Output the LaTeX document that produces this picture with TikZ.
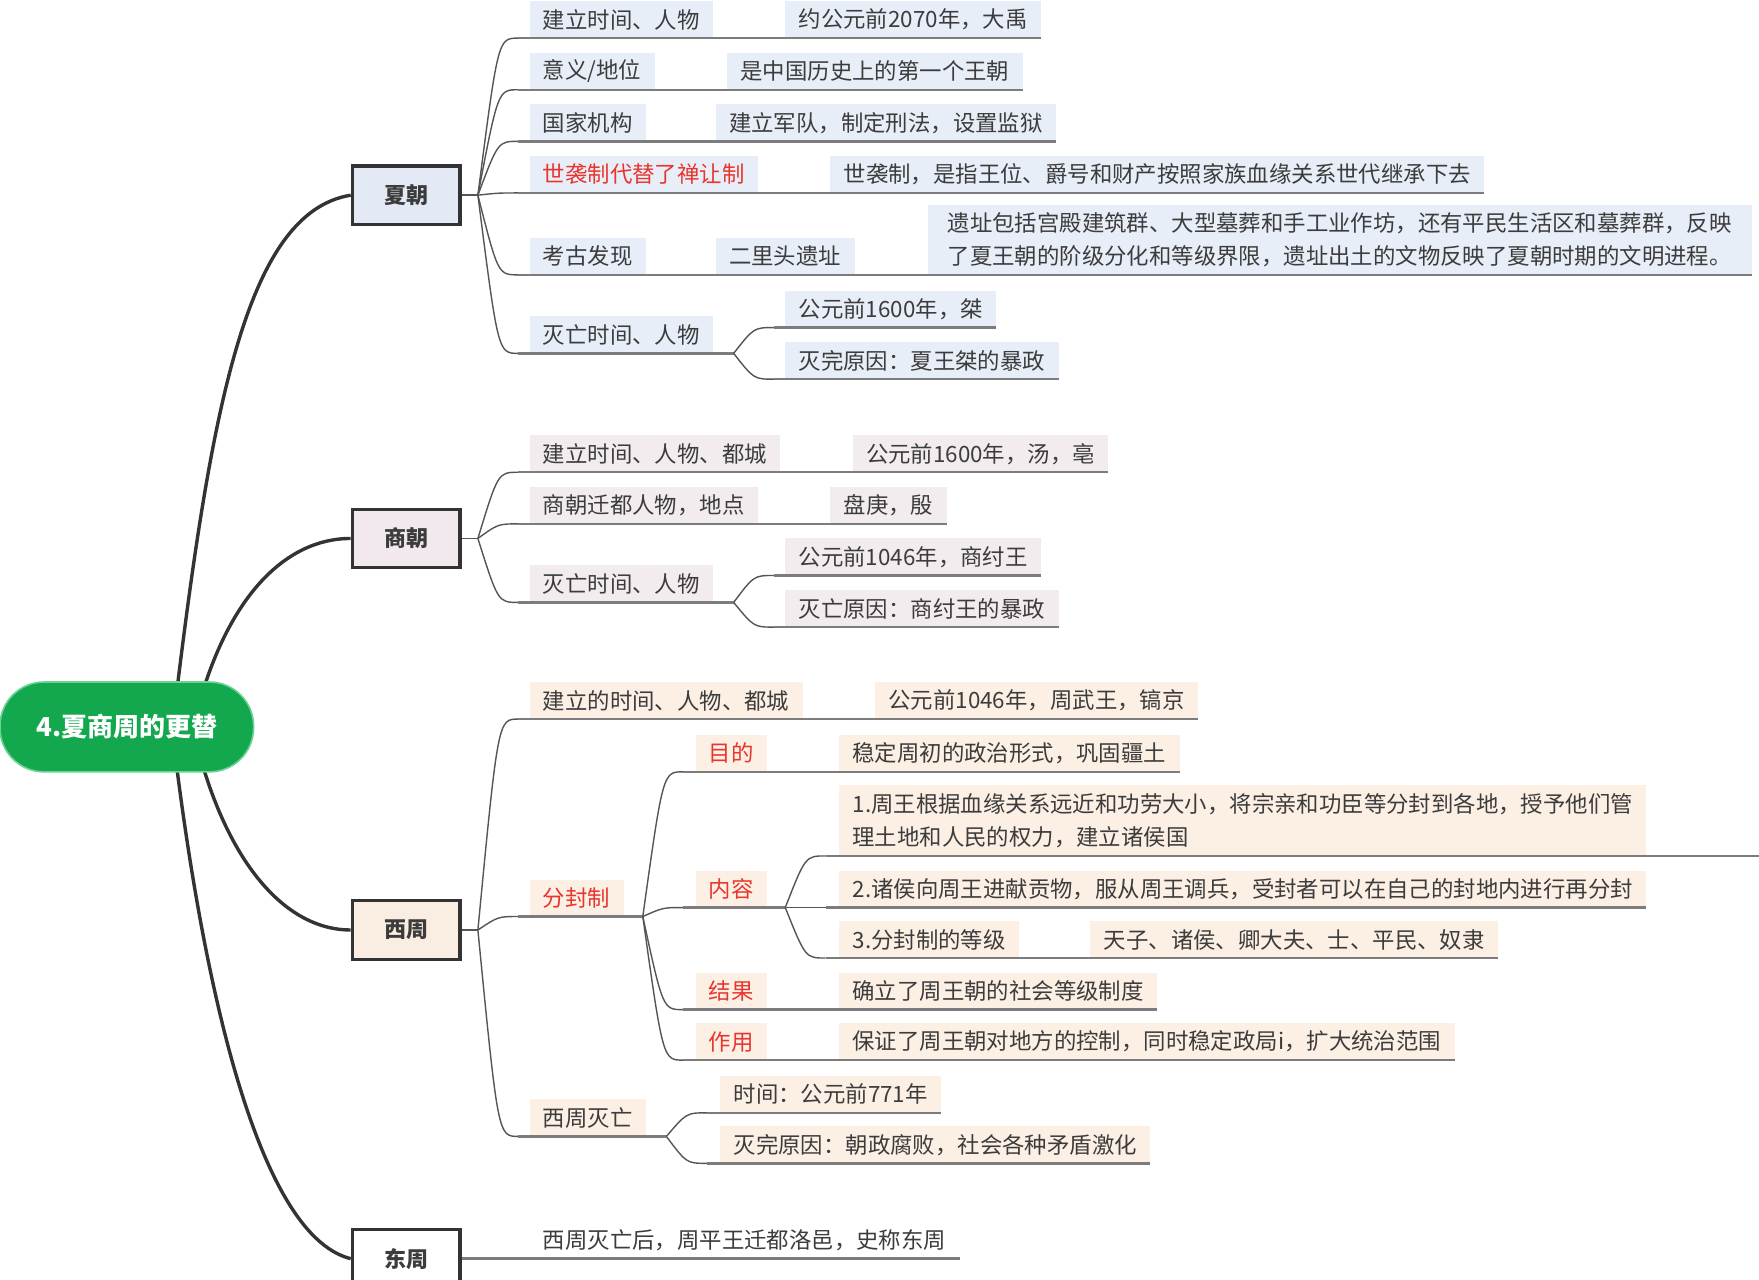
\documentclass[tikz,border=0pt]{standalone}
\usepackage{fontspec}
\setmainfont{Noto Sans CJK SC}
\usetikzlibrary{calc}
\definecolor{xiabg}{HTML}{E8EEF8}
\definecolor{shangbg}{HTML}{F3ECEF}
\definecolor{zhoubg}{HTML}{FCF0E5}
\definecolor{xiabox}{HTML}{E4EAF5}
\definecolor{shangbox}{HTML}{F1E9EE}
\definecolor{zhoubox}{HTML}{FAEDE1}
\definecolor{rootgreen}{HTML}{14A84E}
\definecolor{rootedge}{HTML}{6AD394}
\definecolor{txt}{HTML}{3C3C3C}
\definecolor{redtxt}{HTML}{E8352E}
\definecolor{mainln}{HTML}{333333}
\definecolor{cln}{HTML}{555555}
\definecolor{uln}{HTML}{7C7C7C}
\pgfdeclarelayer{bgl}
\pgfsetlayers{bgl,main}
\newcommand\fsz{\fontsize{11.2}{16.3}\selectfont}
\newcommand\brline[3]{%
  \draw[cline] (#1) .. controls ($(#1 |- #2.south)+(18,0)$) .. ($(#1 |- #2.south)+(36,0)$);
  \draw[uline] ($(#1 |- #2.south)+(36,0)$) -- #3;}
\tikzset{
  lab/.style={anchor=south west, inner xsep=6.73pt, inner ysep=0pt, minimum height=18.5pt, outer sep=0pt, font=\fsz, text=txt},
  labtwo/.style={lab, align=left, minimum height=35pt},
  xb/.style={fill=xiabg}, sb/.style={fill=shangbg}, zb/.style={fill=zhoubg},
  rd/.style={text=redtxt},
  period/.style={draw=mainln, line width=1.6pt, minimum width=53.8pt, minimum height=29.2pt, inner sep=0pt, font=\fontsize{11}{13}\selectfont\bfseries, text=txt},
  root/.style={fill=rootgreen, draw=rootedge, line width=0.8pt, rounded corners=22pt, minimum width=126.8pt, minimum height=44.9pt, inner sep=0pt, text=white, font=\fontsize{13}{15}\selectfont\bfseries},
  mainline/.style={draw=mainln, line width=1.7pt},
  cline/.style={draw=cln, line width=0.7pt},
  uline/.style={draw=uln, line width=1.2pt},
}
\begin{document}
\begin{tikzpicture}[x=0.5609pt, y=-0.5609pt]
\useasboundingbox (0,0) rectangle (1568,1141);
\clip (0,0) rectangle (1568,1141);
\coordinate (edge) at (1568,0);

% root and periods
\node[root] (root) at (113,648) {4.夏商周的更替};
\node[period, fill=xiabox] (xia) at (362,174) {夏朝};
\node[period, fill=shangbox] (shang) at (362,480) {商朝};
\node[period, fill=zhoubox] (xizhou) at (362,829) {西周};
\node[period, fill=white] (dongzhou) at (362,1122) {东周};

\begin{pgfonlayer}{bgl}
\fill[white] (0,0) rectangle (1568,1141);
\draw[mainline] ($(root)+(37,32)$) .. controls ($(root)+(72,-268)$) and ($(root)+(102,-458)$) .. (xia.west);
\draw[mainline] ($(root)+(57,10)$) .. controls ($(root)+(82,-108)$) and ($(root)+(137,-168)$) .. (shang.west);
\draw[mainline] ($(root)+(57,-8)$) .. controls ($(root)+(82,112)$) and ($(root)+(137,181)$) .. (xizhou.west);
\draw[mainline] ($(root)+(37,-28)$) .. controls ($(root)+(62,202)$) and ($(root)+(112,452)$) .. (dongzhou.west);
\end{pgfonlayer}

% forks
\coordinate (xiaF) at (426,174);
\coordinate (shangF) at (426,480);
\coordinate (zhouF) at (426,829);
\draw[cline, line width=0.9pt] (xia.east) -- (xiaF);
\draw[cline, line width=0.9pt] (shang.east) -- (shangF);
\draw[cline, line width=0.9pt] (xizhou.east) -- (zhouF);

% ===== Xia =====
\node[lab,xb] (x1l) at (472,34) {建立时间、人物};
\node[lab,xb] (x1v) at (700,34) {约公元前2070年，大禹};
\node[lab,xb] (x2l) at (472,80) {意义/地位};
\node[lab,xb] (x2v) at (648,80) {是中国历史上的第一个王朝};
\node[lab,xb] (x3l) at (472,126) {国家机构};
\node[lab,xb] (x3v) at (638,126) {建立军队，制定刑法，设置监狱};
\node[lab,xb,rd] (x4l) at (472,172) {世袭制代替了禅让制};
\node[lab,xb] (x4v) at (740,172) {世袭制，是指王位、爵号和财产按照家族血缘关系世代继承下去};
\node[lab,xb] (x5l) at (472,245) {考古发现};
\node[lab,xb] (x5m) at (638,245) {二里头遗址};
\node[labtwo,xb,inner xsep=10pt] (x5v) at (827,245) {遗址包括宫殿建筑群、大型墓葬和手工业作坊，还有平民生活区和墓葬群，反映\\了夏王朝的阶级分化和等级界限，遗址出土的文物反映了夏朝时期的文明进程。};
\node[lab,xb] (x6l) at (472,315) {灭亡时间、人物};
\coordinate (x6F) at (654,315);
\node[lab,xb] (x6a) at (700,292) {公元前1600年，桀};
\node[lab,xb] (x6b) at (700,338) {灭完原因：夏王桀的暴政};

\brline{xiaF}{x1l}{(x1v.south east)}
\brline{xiaF}{x2l}{(x2v.south east)}
\brline{xiaF}{x3l}{(x3v.south east)}
\brline{xiaF}{x4l}{(x4v.south east)}
\brline{xiaF}{x5l}{(x5v.south east)}
\brline{xiaF}{x6l}{(x6F)}
\brline{x6F}{x6a}{(x6a.south east)}
\brline{x6F}{x6b}{(x6b.south east)}

% ===== Shang =====
\node[lab,sb] (s1l) at (472,421) {建立时间、人物、都城};
\node[lab,sb] (s1v) at (760,421) {公元前1600年，汤，亳};
\node[lab,sb] (s2l) at (472,467) {商朝迁都人物，地点};
\node[lab,sb] (s2v) at (740,467) {盘庚，殷};
\node[lab,sb] (s3l) at (472,537) {灭亡时间、人物};
\coordinate (s3F) at (654,537);
\node[lab,sb] (s3a) at (700,513) {公元前1046年，商纣王};
\node[lab,sb] (s3b) at (700,559) {灭亡原因：商纣王的暴政};

\brline{shangF}{s1l}{(s1v.south east)}
\brline{shangF}{s2l}{(s2v.south east)}
\brline{shangF}{s3l}{(s3F)}
\brline{s3F}{s3a}{(s3a.south east)}
\brline{s3F}{s3b}{(s3b.south east)}

% ===== Western Zhou =====
\node[lab,zb] (z1l) at (472,641) {建立的时间、人物、都城};
\node[lab,zb] (z1v) at (780,641) {公元前1046年，周武王，镐京};
\node[lab,zb,rd] (z2l) at (472,817) {分封制};
\coordinate (z2F) at (573,817);
\node[lab,zb,rd] (za) at (620,688) {目的};
\node[lab,zb] (zav) at (748,688) {稳定周初的政治形式，巩固疆土};
\node[lab,zb,rd] (zbl) at (620,809) {内容};
\coordinate (zbF) at (700,809);
\node[labtwo,zb,minimum height=35.3pt] (zb1) at (748,763) {1.周王根据血缘关系远近和功劳大小，将宗亲和功臣等分封到各地，授予他们管\\理土地和人民的权力，建立诸侯国};
\node[lab,zb] (zb2) at (748,809) {2.诸侯向周王进献贡物，服从周王调兵，受封者可以在自己的封地内进行再分封};
\node[lab,zb] (zb3) at (748,854) {3.分封制的等级};
\node[lab,zb] (zb3v) at (972,854) {天子、诸侯、卿大夫、士、平民、奴隶};
\node[lab,zb,rd] (zc) at (620,900) {结果};
\node[lab,zb] (zcv) at (748,900) {确立了周王朝的社会等级制度};
\node[lab,zb,rd] (zd) at (620,945) {作用};
\node[lab,zb] (zdv) at (748,945) {保证了周王朝对地方的控制，同时稳定政局i，扩大统治范围};
\node[lab,zb] (z3l) at (472,1013) {西周灭亡};
\coordinate (z3F) at (594,1013);
\node[lab,zb] (z3a) at (642,992) {时间：公元前771年};
\node[lab,zb] (z3b) at (642,1037) {灭完原因：朝政腐败，社会各种矛盾激化};

\brline{zhouF}{z1l}{(z1v.south east)}
\brline{zhouF}{z2l}{(z2F)}
\brline{zhouF}{z3l}{(z3F)}
\brline{z2F}{za}{(zav.south east)}
\brline{z2F}{zbl}{(zbF)}
\brline{z2F}{zc}{(zcv.south east)}
\brline{z2F}{zd}{(zdv.south east)}
\brline{zbF}{zb1}{(zb1.south -| edge)}
\brline{zbF}{zb2}{(zb2.south east)}
\brline{zbF}{zb3}{(zb3v.south east)}
\brline{z3F}{z3a}{(z3a.south east)}
\brline{z3F}{z3b}{(z3b.south east)}

% ===== Eastern Zhou =====
\node[lab] (d1) at (472,1122) {西周灭亡后，周平王迁都洛邑，史称东周};
\draw[uline] (dongzhou.east) -- (d1.south east);
\end{tikzpicture}
\end{document}
